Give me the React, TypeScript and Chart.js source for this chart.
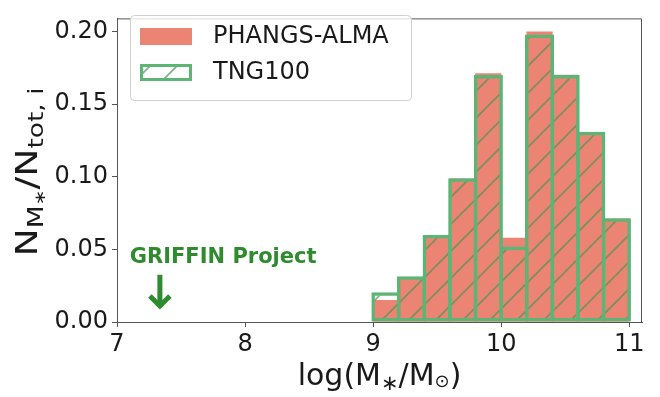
import { useEffect, useRef } from 'react';
import { Chart, registerables } from 'chart.js';

Chart.register(...registerables);

// ---- data ----
const binCenters = [9.1, 9.3, 9.5, 9.7, 9.9, 10.1, 10.3, 10.5, 10.7, 10.9];
const phangsValues = [0.015, 0.0295, 0.058, 0.0985, 0.171, 0.0577, 0.1998, 0.17, 0.1285, 0.071];
const tngValues = [0.0205, 0.0315, 0.06, 0.099, 0.17, 0.052, 0.198, 0.17, 0.131, 0.0714];
const xTicks = [7, 8, 9, 10, 11];
const yTicks = [0, 0.05, 0.1, 0.15, 0.2];
const seriesLabels = ['PHANGS-ALMA', 'TNG100'];
const annotationText = 'GRIFFIN Project';
const annotationTextPos = [7.1, 0.0407];
const arrowX = 7.335;
const arrowFromY = 0.0325;
const arrowToY = 0.009;
const xRange = [7, 11.1];
const yRange = [0, 0.209];

// ---- style ----
const SALMON = '#ec8474';
const GREEN_EDGE = '#5cb575';
const HATCH = 'rgba(70,150,85,0.7)';
const ANNOT = '#2e8b2e';
const FRAME = '#555555';
const TEXT = '#1a1a1a';
const FONT = '"DejaVu Sans", Verdana, sans-serif';
const EDGE_W = 3.5;

function makeHatch(color: string, s: number, lw: number) {
  const c = document.createElement('canvas');
  c.width = s;
  c.height = s;
  const g = c.getContext('2d')!;
  g.strokeStyle = color;
  g.lineWidth = lw;
  g.beginPath();
  g.moveTo(-2, s + 2);
  g.lineTo(s + 2, -2);
  g.moveTo(-2, 2);
  g.lineTo(2, -2);
  g.moveTo(s - 2, s + 2);
  g.lineTo(s + 2, s - 2);
  g.stroke();
  return g.createPattern(c, 'repeat')!;
}

type Seg = { t: string; s: number; dy: number };

function richWidth(ctx: CanvasRenderingContext2D, segs: Seg[], base: number) {
  let w = 0;
  for (const sg of segs) {
    ctx.font = `${base * sg.s}px ${FONT}`;
    w += ctx.measureText(sg.t).width;
  }
  return w;
}

function drawRich(ctx: CanvasRenderingContext2D, segs: Seg[], base: number, startX: number, baseY: number) {
  let x = startX;
  ctx.textBaseline = 'alphabetic';
  ctx.textAlign = 'left';
  for (const sg of segs) {
    ctx.font = `${base * sg.s}px ${FONT}`;
    ctx.fillText(sg.t, x, baseY + sg.dy * base);
    x += ctx.measureText(sg.t).width;
  }
}

const xTitle: Seg[] = [
  { t: 'log(M', s: 1, dy: 0 },
  { t: '\u2217', s: 0.7, dy: 0.15 },
  { t: '/M', s: 1, dy: 0 },
  { t: '\u2299', s: 0.6, dy: 0.08 },
  { t: ')', s: 1, dy: 0 },
];
const yTitle: Seg[] = [
  { t: 'N', s: 1, dy: 0 },
  { t: 'M', s: 0.7, dy: 0.2 },
  { t: '\u2217', s: 0.5, dy: 0.28 },
  { t: '/N', s: 1, dy: 0 },
  { t: 'tot, i', s: 0.7, dy: 0.2 },
];

export default function App() {
  const ref = useRef<HTMLCanvasElement | null>(null);

  useEffect(() => {
    document.body.style.margin = '0';
    const canvas = ref.current!;
    const ctx0 = canvas.getContext('2d')!;
    const hatch = makeHatch(HATCH, 27, 1.6);

    const overlay = {
      id: 'overlay',
      afterDraw(chart: any) {
        const ctx: CanvasRenderingContext2D = chart.ctx;
        const a = chart.chartArea;
        const xs = chart.scales.x;
        const ys = chart.scales.y;
        ctx.save();
        // frame
        ctx.strokeStyle = FRAME;
        ctx.lineWidth = 1;
        ctx.beginPath();
        ctx.moveTo(a.left, a.top + 0.5);
        ctx.lineTo(a.right - 0.5, a.top + 0.5);
        ctx.lineTo(a.right - 0.5, a.bottom);
        ctx.stroke();

        // legend
        ctx.beginPath();
        (ctx as any).roundRect(130.5, 15.5, 281, 85, 4);
        ctx.fillStyle = 'rgba(255,255,255,0.8)';
        ctx.fill();
        ctx.strokeStyle = '#d0d0d0';
        ctx.lineWidth = 1;
        ctx.stroke();
        ctx.fillStyle = SALMON;
        ctx.fillRect(140, 28, 52, 17);
        ctx.fillStyle = hatch;
        ctx.fillRect(141.5, 65.5, 49, 14);
        ctx.strokeStyle = GREEN_EDGE;
        ctx.lineWidth = 3;
        ctx.strokeRect(141.5, 65.5, 49, 14);
        ctx.fillStyle = TEXT;
        ctx.font = `24px ${FONT}`;
        ctx.textBaseline = 'middle';
        ctx.textAlign = 'left';
        ctx.fillText(seriesLabels[0], 213, 37);
        ctx.fillText(seriesLabels[1], 213, 73);

        // annotation
        ctx.fillStyle = ANNOT;
        ctx.font = `bold 21px ${FONT}`;
        ctx.textBaseline = 'alphabetic';
        ctx.fillText(annotationText, xs.getPixelForValue(annotationTextPos[0]), ys.getPixelForValue(annotationTextPos[1]));
        const ax = xs.getPixelForValue(arrowX);
        const ay0 = ys.getPixelForValue(arrowFromY);
        const ay1 = ys.getPixelForValue(arrowToY);
        ctx.strokeStyle = ANNOT;
        ctx.lineWidth = 5;
        ctx.lineCap = 'butt';
        ctx.beginPath();
        ctx.moveTo(ax, ay0);
        ctx.lineTo(ax, ay1 - 3);
        ctx.stroke();
        ctx.lineJoin = 'miter';
        ctx.beginPath();
        ctx.moveTo(ax - 10, ay1 - 13);
        ctx.lineTo(ax, ay1 - 3);
        ctx.lineTo(ax + 10, ay1 - 13);
        ctx.stroke();

        // axis titles
        ctx.fillStyle = TEXT;
        const xb = 30;
        const xw = richWidth(ctx, xTitle, xb);
        drawRich(ctx, xTitle, xb, (a.left + a.right) / 2 - xw / 2, 385);

        const yb = 30;
        const yw = richWidth(ctx, yTitle, yb);
        const target = 169;
        ctx.save();
        ctx.translate(37, 172);
        ctx.rotate(-Math.PI / 2);
        ctx.scale(target / yw, 1);
        drawRich(ctx, yTitle, yb, -yw / 2, 0);
        ctx.restore();

        ctx.restore();
      },
    };

    const tickFont = { family: FONT, size: 24 };

    const chart = new Chart(ctx0, {
      type: 'bar',
      data: {
        datasets: [
          {
            label: seriesLabels[0],
            data: binCenters.map((x, i) => ({ x, y: phangsValues[i] })),
            backgroundColor: SALMON,
            borderWidth: 0,
            barPercentage: 1,
            categoryPercentage: 1,
            grouped: false,
            order: 1,
          } as any,
          {
            label: seriesLabels[1],
            data: binCenters.map((x, i) => ({ x, y: tngValues[i] })),
            backgroundColor: hatch,
            borderColor: GREEN_EDGE,
            borderWidth: EDGE_W,
            borderSkipped: false,
            barPercentage: 1 + EDGE_W / 25.6,
            categoryPercentage: 1,
            grouped: false,
            order: 0,
          } as any,
        ],
      },
      options: {
        animation: false,
        responsive: false,
        devicePixelRatio: 1,
        layout: { padding: { top: 3, right: 18, left: 0, bottom: 0 } },
        plugins: { legend: { display: false }, tooltip: { enabled: false } },
        scales: {
          x: {
            type: 'linear',
            min: xRange[0],
            max: xRange[1],
            offset: false,
            afterBuildTicks: (s: any) => {
              s.ticks = xTicks.map((v) => ({ value: v }));
            },
            afterFit: (s: any) => {
              s.height = 75;
            },
            ticks: {
              font: tickFont,
              color: TEXT,
              padding: 3,
              maxRotation: 0,
              autoSkip: false,
              callback: (v: any) => String(v),
            },
            grid: { display: true, offset: false, drawOnChartArea: false, drawTicks: true, tickLength: 5, color: FRAME },
            border: { display: true, color: FRAME, width: 1 },
          } as any,
          y: {
            type: 'linear',
            min: yRange[0],
            max: yRange[1],
            afterBuildTicks: (s: any) => {
              s.ticks = yTicks.map((v) => ({ value: v }));
            },
            afterFit: (s: any) => {
              s.width = 117;
            },
            ticks: {
              font: tickFont,
              color: TEXT,
              padding: 4,
              autoSkip: false,
              callback: (v: any) => Number(v).toFixed(2),
            },
            grid: { display: true, drawOnChartArea: false, drawTicks: true, tickLength: 5, color: FRAME },
            border: { display: true, color: FRAME, width: 1 },
          } as any,
        },
      },
      plugins: [overlay],
    });
    return () => chart.destroy();
  }, []);

  return (
    <div style={{ position: 'absolute', left: 0, top: 0, width: 660, height: 397, background: '#fff' }}>
      <canvas ref={ref} width={660} height={397} />
    </div>
  );
}
